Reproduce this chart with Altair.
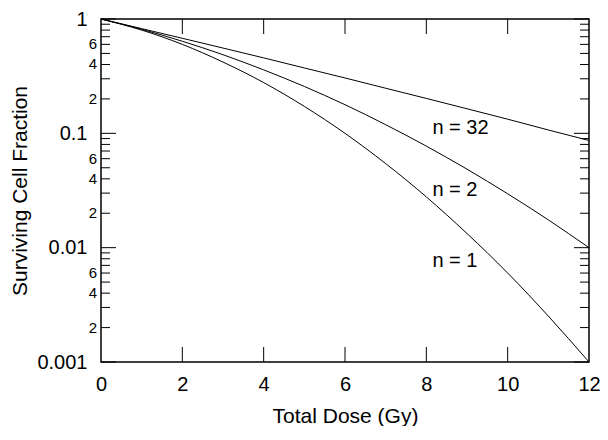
import altair as alt
import pandas as pd

# ---- data ----
dose = [0, 1, 2, 3, 4, 5, 6, 7, 8, 9, 10, 11, 12]
surv_n1 = [1.0, 0.80, 0.60, 0.42, 0.278, 0.172, 0.100, 0.0544, 0.0278, 0.0133, 0.0060, 0.00252, 0.0010]
surv_n2 = [1.0, 0.812, 0.639, 0.487, 0.359, 0.257, 0.178, 0.119, 0.0773, 0.0486, 0.0296, 0.0175, 0.0100]
surv_n32 = [1.0, 0.824, 0.678, 0.557, 0.457, 0.373, 0.305, 0.248, 0.202, 0.164, 0.133, 0.107, 0.0866]

curve_labels = ["n = 32", "n = 2", "n = 1"]
curve_label_dose = [8.15, 8.15, 8.15]
curve_label_surv = [0.111, 0.032, 0.0076]

x_tick_values = [0, 2, 4, 6, 8, 10, 12]
x_inner_ticks = [2, 4, 6, 8, 10]
y_major_values = [1, 0.1, 0.01, 0.001]
y_minor_values = [m * d for d in [0.001, 0.01, 0.1] for m in [2, 3, 4, 5, 6, 7, 8, 9]]
y_minor_label_values = [m * d for d in [0.001, 0.01, 0.1] for m in [2, 4, 6]]
y_minor_label_text = [str(m) for d in [0.001, 0.01, 0.1] for m in [2, 4, 6]]

W, H = 488, 343
FONT = "Liberation Sans"

rows = []
for name, vals in [("n1", surv_n1), ("n2", surv_n2), ("n32", surv_n32)]:
    for d, s in zip(dose, vals):
        rows.append({"dose": d, "surv": s, "series": name})
df = pd.DataFrame(rows)

xs = alt.Scale(domain=[0, 12], nice=False, zero=False)
ys = alt.Scale(type="log", domain=[0.001, 1], nice=False)

xaxis = alt.Axis(values=x_tick_values, ticks=False, domain=False, grid=False,
                 labelFontSize=20, labelFont=FONT, labelColor="black", labelPadding=12,
                 labelFlush=False, labelOverlap=False,
                 title="Total Dose (Gy)", titleFont=FONT, titleFontSize=21,
                 titleFontWeight="normal", titleColor="black", titlePadding=11)
yaxis = alt.Axis(values=y_major_values, format="~g", ticks=False, domain=False, grid=False,
                 labelFontSize=20, labelFont=FONT, labelColor="black", labelPadding=14,
                 labelFlush=False, labelOverlap=False,
                 title="Surviving Cell Fraction", titleFont=FONT, titleFontSize=21,
                 titleFontWeight="normal", titleColor="black", titlePadding=6)

X = alt.X("dose:Q", scale=xs, axis=xaxis)
Y = alt.Y("surv:Q", scale=ys, axis=yaxis)

lines = alt.Chart(df).mark_line(color="black", strokeWidth=1, interpolate="monotone").encode(
    x=X, y=Y, detail="series:N",
)

lab_df = pd.DataFrame({"dose": curve_label_dose, "surv": curve_label_surv, "t": curve_labels})
labels = alt.Chart(lab_df).mark_text(align="left", baseline="middle", fontSize=20, font=FONT,
                                     color="black").encode(x=X, y=Y, text="t:N")

ymaj_df = pd.DataFrame({"surv": y_major_values})
ymin_df = pd.DataFrame({"surv": y_minor_values})
xin_df = pd.DataFrame({"dose": x_inner_ticks})

MAJ, MIN = 15, 9


def yticks(data, x0, x1):
    return alt.Chart(data).mark_rule(color="black", strokeWidth=1).encode(
        y=Y, x=alt.value(x0), x2=alt.value(x1))


def xticks(data, y0, y1):
    return alt.Chart(data).mark_rule(color="black", strokeWidth=1).encode(
        x=X, y=alt.value(y0), y2=alt.value(y1))


minor_lab_df = pd.DataFrame({"surv": y_minor_label_values, "t": y_minor_label_text})
minor_labels = alt.Chart(minor_lab_df).mark_text(align="right", baseline="middle", fontSize=15,
                                                 font=FONT, color="black").encode(
    y=Y, x=alt.value(-4), text="t:N")

chart = alt.layer(
    lines,
    labels,
    yticks(ymaj_df, 0, MAJ),
    yticks(ymin_df, 0, MIN),
    yticks(ymaj_df, W, W - MAJ),
    yticks(ymin_df, W, W - MIN),
    xticks(xin_df, 0, MAJ),
    xticks(xin_df, H, H - MAJ),
    minor_labels,
).properties(
    width=W, height=H,
    padding={"left": 93, "top": 11, "right": 11, "bottom": 64},
    autosize=alt.AutoSizeParams(type="none"),
).configure_view(stroke="black", strokeWidth=1.5)

chart.save("out.html", embed_options={"renderer": "svg", "actions": False})
